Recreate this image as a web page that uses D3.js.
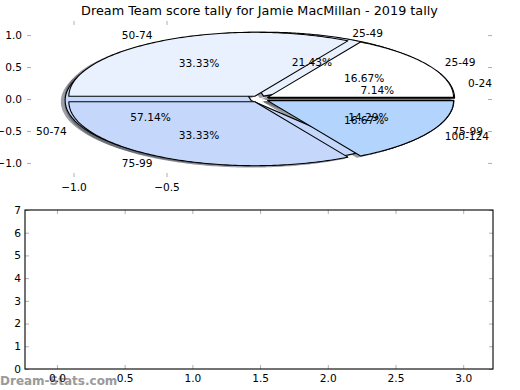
<!DOCTYPE html>
<html>
<head>
<meta charset="utf-8">
<script src="https://cdn.jsdelivr.net/npm/d3@7"></script>
<style>
  html, body { margin: 0; padding: 0; background: #ffffff; }
  svg { display: block; }
  text { font-family: "DejaVu Sans", sans-serif; }
</style>
</head>
<body>
<svg id="chart" width="520" height="390"></svg>
<script>
// ---- data ----
const chartTitle = "Dream Team score tally for Jamie MacMillan - 2019 tally";
const pie1Labels = ["0-24", "25-49", "50-74", "75-99"];
const pie1Values = [1, 3, 8, 2];
const pie2Labels = ["25-49", "50-74", "75-99", "100-124"];
const pie2Values = [1, 2, 2, 1];
const wedgeColors = ["#ffffff", "#e9f0fe", "#c5d8fc", "#b3d4fc"];
const explodeAmount = 0.05;
const topYTicks = [-1.0, -0.5, 0.0, 0.5, 1.0];
const topXTicks = [-1.0, -0.5];
const bottomXTicks = [0.0, 0.5, 1.0, 1.5, 2.0, 2.5, 3.0];
const bottomYTicks = [0, 1, 2, 3, 4, 5, 6, 7];
const watermark = "Dream-Stats.com";

// ---- setup ----
const svg = d3.select("#chart");
svg.append("rect").attr("width", 520).attr("height", 390).attr("fill", "#ffffff");

const xTop = d3.scaleLinear().domain([-1.25, 1.25]).range([27, 492]);
const yTop = d3.scaleLinear().domain([-1.22, 1.22]).range([177, 21]);
const xBot = d3.scaleLinear().domain([-0.236, 3.22]).range([25, 493]);
const yBot = d3.scaleLinear().domain([0, 7]).range([369, 210]);

const fmt1 = d3.format(".1f");
const tickColor = "#b0b0b0";
const fs = 10.6;

// watermark (drawn first, tick labels overlay it)
svg.append("text").attr("x", 0).attr("y", 385)
  .attr("font-size", 12).attr("fill", "#9a9a9a").attr("font-weight", "bold")
  .text(watermark);

// title
svg.append("text").attr("x", 259.5).attr("y", 15)
  .attr("text-anchor", "middle").attr("font-size", 12.8).attr("fill", "#000")
  .text(chartTitle);

// ---- top axes ticks (no frame) ----
const topAx = svg.append("g");
const gL = topAx.append("g").attr("transform", `translate(${xTop.range()[0]},0)`)
  .call(d3.axisLeft(yTop).tickValues(topYTicks).tickFormat(fmt1).tickSize(-4).tickPadding(5));
const gR = topAx.append("g").attr("transform", `translate(${xTop.range()[1]},0)`)
  .call(d3.axisRight(yTop).tickValues(topYTicks).tickFormat("").tickSize(-4));
const gB = topAx.append("g").attr("transform", `translate(0,${yTop.range()[0]})`)
  .call(d3.axisBottom(xTop).tickValues(topXTicks).tickFormat(fmt1).tickSize(-4).tickPadding(6));
const gT = topAx.append("g").attr("transform", `translate(0,${yTop.range()[1]})`)
  .call(d3.axisTop(xTop).tickValues(topXTicks).tickFormat("").tickSize(-4));
[gL, gR, gB, gT].forEach(g => {
  g.select(".domain").remove();
  g.selectAll(".tick line").attr("stroke", tickColor);
  g.selectAll(".tick text").attr("font-size", fs).attr("fill", "#000")
    .attr("font-family", "DejaVu Sans, sans-serif");
});

// ---- pies ----
function makeWedges(values, labels) {
  const arcs = d3.pie().sort(null).startAngle(0).endAngle(2 * Math.PI)(values);
  const total = d3.sum(values);
  return arcs.map((a, i) => {
    const mid = (a.startAngle + a.endAngle) / 2;
    return {
      t0: a.startAngle, t1: a.endAngle, mid,
      cx: explodeAmount * Math.cos(mid), cy: explodeAmount * Math.sin(mid),
      label: labels[i], pct: d3.format(".2f")(a.value / total * 100) + "%",
      color: wedgeColors[i]
    };
  });
}
const pies = [makeWedges(pie1Values, pie1Labels), makeWedges(pie2Values, pie2Labels)];

const line = d3.line().x(d => xTop(d[0])).y(d => yTop(d[1]));
function wedgePath(w, ox, oy) {
  const pts = [[w.cx + ox, w.cy + oy]];
  const n = 120;
  for (let k = 0; k <= n; k++) {
    const t = w.t0 + (w.t1 - w.t0) * k / n;
    pts.push([w.cx + ox + Math.cos(t), w.cy + oy + Math.sin(t)]);
  }
  return line(pts) + "Z";
}

const shadowG = svg.append("g");
const wedgeG = svg.append("g");
const textG = svg.append("g");

pies.forEach(ws => {
  ws.forEach(w => {
    const c = d3.rgb(w.color);
    const sc = d3.rgb(c.r * 0.3, c.g * 0.3, c.b * 0.3);
    shadowG.append("path").attr("d", wedgePath(w, -0.02, -0.02))
      .attr("fill", sc).attr("stroke", sc).attr("stroke-width", 1.1)
      .attr("opacity", 0.5);
  });
});
pies.forEach(ws => {
  ws.forEach(w => {
    wedgeG.append("path").attr("d", wedgePath(w, 0, 0))
      .attr("fill", w.color).attr("stroke", "#000").attr("stroke-width", 1.1)
      .attr("stroke-linejoin", "round");
  });
});
pies.forEach(ws => {
  ws.forEach(w => {
    const lx = w.cx + 1.1 * Math.cos(w.mid), ly = w.cy + 1.1 * Math.sin(w.mid);
    textG.append("text").attr("x", xTop(lx)).attr("y", yTop(ly))
      .attr("text-anchor", lx > 0 ? "start" : "end")
      .attr("dominant-baseline", "central")
      .attr("font-size", fs).attr("fill", "#000").text(w.label);
    const px = w.cx + 0.6 * Math.cos(w.mid), py = w.cy + 0.6 * Math.sin(w.mid);
    textG.append("text").attr("x", xTop(px)).attr("y", yTop(py))
      .attr("text-anchor", "middle").attr("dominant-baseline", "central")
      .attr("font-size", fs).attr("fill", "#000").text(w.pct);
  });
});

// ---- bottom axes ----
const botAx = svg.append("g");
const bL = botAx.append("g").attr("transform", `translate(${xBot.range()[0]},0)`)
  .call(d3.axisLeft(yBot).tickValues(bottomYTicks).tickFormat(d3.format("d")).tickSize(-4).tickPadding(4));
const bR = botAx.append("g").attr("transform", `translate(${xBot.range()[1]},0)`)
  .call(d3.axisRight(yBot).tickValues(bottomYTicks).tickFormat("").tickSize(-4));
const bB = botAx.append("g").attr("transform", `translate(0,${yBot.range()[0]})`)
  .call(d3.axisBottom(xBot).tickValues(bottomXTicks).tickFormat(fmt1).tickSize(-4).tickPadding(5));
const bT = botAx.append("g").attr("transform", `translate(0,${yBot.range()[1]})`)
  .call(d3.axisTop(xBot).tickValues(bottomXTicks).tickFormat("").tickSize(-4));
[bL, bR, bB, bT].forEach(g => {
  g.select(".domain").remove();
  g.selectAll(".tick line").attr("stroke", tickColor);
  g.selectAll(".tick text").attr("font-size", fs).attr("fill", "#000")
    .attr("font-family", "DejaVu Sans, sans-serif");
});
botAx.append("rect")
  .attr("x", xBot.range()[0]).attr("y", yBot.range()[1])
  .attr("width", xBot.range()[1] - xBot.range()[0])
  .attr("height", yBot.range()[0] - yBot.range()[1])
  .attr("fill", "none").attr("stroke", "#000").attr("stroke-width", 1.1);
</script>
</body>
</html>
